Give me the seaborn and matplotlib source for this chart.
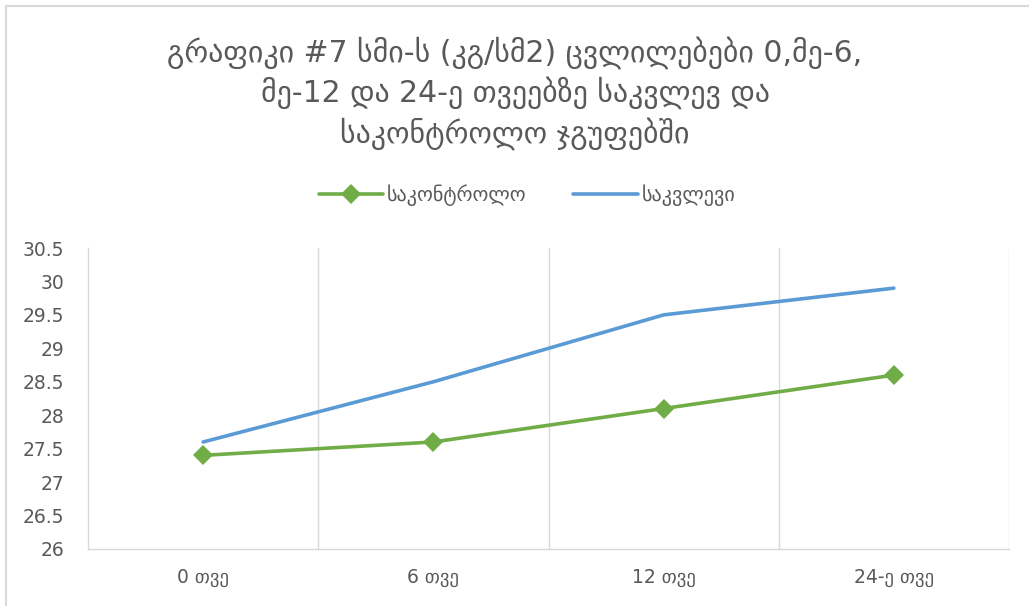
import pandas as pd
import seaborn as sns
import matplotlib.pyplot as plt
from matplotlib.patches import Rectangle

sns.set_style('white')
plt.rcParams['font.family'] = ['DejaVu Sans']

months = ['0 თვე', '6 თვე', '12 თვე', '24-ე თვე']
control = [27.4, 27.6, 28.1, 28.6]
study = [27.6, 28.5, 29.5, 29.9]
series_names = ['საკონტროლო', 'საკვლევი']
title = ('გრაფიკი #7 სმი-ს (კგ/სმ2) ცვლილებები 0,მე-6,\n'
         'მე-12 და 24-ე თვეებზე საკვლევ და\n'
         'საკონტროლო ჯგუფებში')

df_control = pd.DataFrame({'month': months, 'value': control})
df_study = pd.DataFrame({'month': months, 'value': study})

fig = plt.figure(figsize=(10.29, 6.06), dpi=100)
ax = fig.add_axes([88 / 1029, 57 / 606, 921 / 1029, 301 / 606])

sns.lineplot(data=df_control, x='month', y='value', color='#70AD47',
             marker='D', markersize=10, markeredgewidth=0, linewidth=2.6,
             label=series_names[0], ax=ax, sort=False)
sns.lineplot(data=df_study, x='month', y='value', color='#5B9BD5',
             linewidth=2.6, label=series_names[1], ax=ax, sort=False)

ax.set_xlim(-0.5, 3.5)
ax.set_ylim(26, 30.5)
ax.set_yticks([26 + 0.5 * i for i in range(10)])
ax.set_yticklabels(['26', '26.5', '27', '27.5', '28', '28.5', '29', '29.5', '30', '30.5'])
ax.set_xlabel('')
ax.set_ylabel('')
ax.tick_params(axis='y', length=0, labelsize=13.5, labelcolor='#595959', pad=17)
ax.tick_params(axis='x', length=0, labelsize=13.5, labelcolor='#595959', pad=14)

for xv in [0.5, 1.5, 2.5, 3.5]:
    ax.axvline(xv, color='#d9d9d9', linewidth=1, zorder=0)
for side in ['top', 'right']:
    ax.spines[side].set_visible(False)
for side in ['left', 'bottom']:
    ax.spines[side].set_color('#d9d9d9')
    ax.spines[side].set_linewidth(1)

handles, labels = ax.get_legend_handles_labels()
ax.legend(handles, labels, loc='center', bbox_to_anchor=(527 / 1029, 1 - 195 / 606),
          bbox_transform=fig.transFigure, ncol=2, frameon=False, fontsize=14.5,
          labelcolor='#595959', handlelength=3.2, columnspacing=2.3, handletextpad=0.2)

fig.text(515 / 1029, 1 - 93 / 606, title, ha='center', va='center',
         fontsize=21.5, color='#595959', linespacing=1.3)

fig.patches.append(Rectangle((6 / 1029, -0.1), 1.2, 1 - 6 / 606 + 0.1,
                             transform=fig.transFigure, fill=False,
                             edgecolor='#d9d9d9', linewidth=1.5))

fig.savefig('out.png', dpi=100)
